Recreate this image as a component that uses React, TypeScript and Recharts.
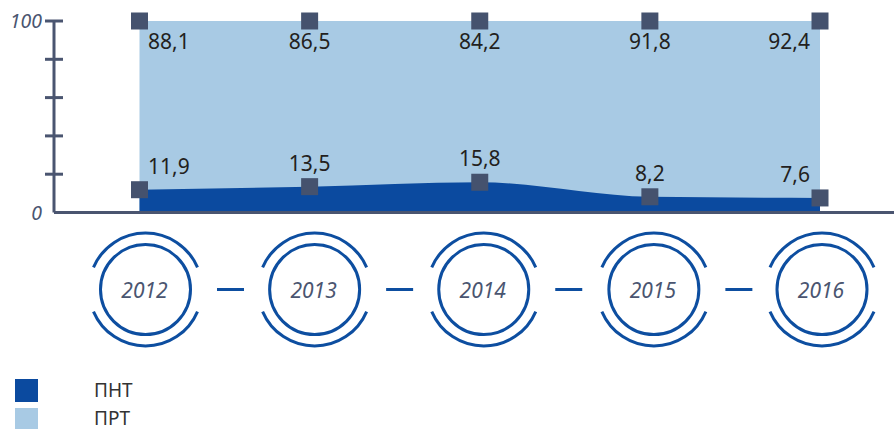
import React from 'react';
import { AreaChart, Area, XAxis, YAxis, Legend } from 'recharts';

const years = ['2012', '2013', '2014', '2015', '2016'];
const pntValues = [11.9, 13.5, 15.8, 8.2, 7.6];
const prtValues = [88.1, 86.5, 84.2, 91.8, 92.4];
const yTicks = [0, 20, 40, 60, 80, 100];
const seriesNames = ['ПНТ', 'ПРТ'];

const DARK = '#0b4a9f';
const LIGHT = '#a8cae4';
const MARKER = '#45526e';
const AXIS = '#4a5570';
const RING = '#0d4ea0';
const FONT = '"Noto Sans", "DejaVu Sans", sans-serif';

const data = years.map((year, i) => ({
  year,
  pnt: pntValues[i],
  prt: prtValues[i],
  total: Math.round((pntValues[i] + prtValues[i]) * 10) / 10,
}));

const fmt = (v: number) => v.toFixed(1).replace('.', ',');

const makeDot = (vals: number[], pos: 'top' | 'bottom') => (props: any) => {
  const { cx, cy, index } = props;
  if (cx == null || cy == null) return <g key={`d-${pos}-${index}`} />;
  const last = vals.length - 1;
  const anchor = index === 0 ? 'start' : index === last ? 'end' : 'middle';
  const tx = index === 0 ? cx + 8.5 : index === last ? cx - 10 : cx;
  const ty = pos === 'top' ? cy + 28 : cy - 16;
  return (
    <g key={`d-${pos}-${index}`}>
      <rect x={cx - 8.5} y={cy - 8.5} width={17} height={17} fill={MARKER} />
      <text x={tx} y={ty} textAnchor={anchor} fontSize={21} fill="#231f20" fontFamily={FONT}>
        {fmt(vals[index])}
      </text>
    </g>
  );
};

const circleOffsets = [6, 5, 4, 4, 2];

const arcPath = (cx: number, cy: number, r: number, deg: number, top: boolean) => {
  const a = (deg * Math.PI) / 180;
  const dx = r * Math.cos(a);
  const dy = r * Math.sin(a);
  if (top) {
    return `M ${cx - dx} ${cy - dy} A ${r} ${r} 0 0 1 ${cx + dx} ${cy - dy}`;
  }
  return `M ${cx + dx} ${cy + dy} A ${r} ${r} 0 0 1 ${cx - dx} ${cy + dy}`;
};

const YearTick = (props: any) => {
  const { x, y, payload } = props;
  const i = years.indexOf(String(payload.value));
  const cx = x + (circleOffsets[i] ?? 0);
  const cy = y + 77;
  return (
    <g>
      <circle cx={cx} cy={cy} r={45} fill="none" stroke={RING} strokeWidth={3} />
      <path d={arcPath(cx, cy, 56.5, 23, true)} fill="none" stroke={RING} strokeWidth={3} />
      <path d={arcPath(cx, cy, 56.5, 23, false)} fill="none" stroke={RING} strokeWidth={3} />
      {i < years.length - 1 && (
        <line x1={cx + 71.5} x2={cx + 98.5} y1={cy} y2={cy} stroke={RING} strokeWidth={3} />
      )}
      <text
        x={cx - 1}
        y={cy + 8}
        textAnchor="middle"
        fontSize={21}
        fontStyle="italic"
        fill={AXIS}
        fontFamily={FONT}
      >
        {payload.value}
      </text>
    </g>
  );
};

const ValueTick = (props: any) => {
  const { x, y, payload } = props;
  const v = payload.value;
  return (
    <g>
      {v !== 0 && <line x1={x - 9} x2={x + 9} y1={y} y2={y} stroke={AXIS} strokeWidth={3} />}
      {(v === 0 || v === 100) && (
        <text
          x={x - 12}
          y={y + 7}
          textAnchor="end"
          fontSize={19.5}
          fontStyle="italic"
          fill={AXIS}
          fontFamily={FONT}
        >
          {v}
        </text>
      )}
    </g>
  );
};

const LegendContent = () => {
  const colors = [DARK, LIGHT];
  return (
    <div style={{ position: 'relative', width: 200, height: 50, fontFamily: FONT }}>
      {seriesNames.map((name, i) => (
        <div
          key={name}
          style={{ position: 'absolute', left: 0, top: i === 0 ? 0 : 29, height: 21, width: 200 }}
        >
          <div
            style={{
              position: 'absolute',
              left: 15,
              top: i === 0 ? 0 : 0,
              width: 23,
              height: i === 0 ? 23 : 21,
              background: colors[i],
            }}
          />
          <div
            style={{
              position: 'absolute',
              left: 94,
              top: 0,
              height: 21,
              lineHeight: '21px',
              fontSize: 19,
              color: '#333',
              marginTop: i === 0 ? 1 : 0,
            }}
          >
            {name}
          </div>
        </div>
      ))}
    </div>
  );
};

export default function App() {
  return (
    <div style={{ position: 'absolute', left: 0, top: 0 }}>
      <AreaChart width={894} height={430} data={data} margin={{ top: 21, right: 0, bottom: 0, left: 0 }}>
        <XAxis
          dataKey="year"
          type="category"
          padding={{ left: 85.5, right: 74 }}
          height={217.5}
          axisLine={{ stroke: AXIS, strokeWidth: 3 }}
          tickLine={false}
          tickSize={0}
          tickMargin={0}
          tick={<YearTick />}
          interval={0}
        />
        <YAxis
          type="number"
          domain={[0, 100]}
          ticks={yTicks}
          width={54}
          axisLine={{ stroke: AXIS, strokeWidth: 3 }}
          tickLine={false}
          tickSize={0}
          tickMargin={0}
          tick={<ValueTick />}
          interval={0}
        />
        <Area
          type="linear"
          dataKey="total"
          name={seriesNames[1]}
          stroke="none"
          fill={LIGHT}
          fillOpacity={1}
          isAnimationActive={false}
          dot={makeDot(prtValues, 'top')}
          activeDot={false}
        />
        <Area
          type="monotone"
          dataKey="pnt"
          name={seriesNames[0]}
          stroke="none"
          fill={DARK}
          fillOpacity={1}
          isAnimationActive={false}
          dot={makeDot(pntValues, 'bottom')}
          activeDot={false}
        />
        <Legend
          layout="vertical"
          align="center"
          verticalAlign="middle"
          wrapperStyle={{ left: 0, top: 379, width: 200, height: 50 }}
          content={<LegendContent />}
        />
      </AreaChart>
    </div>
  );
}
